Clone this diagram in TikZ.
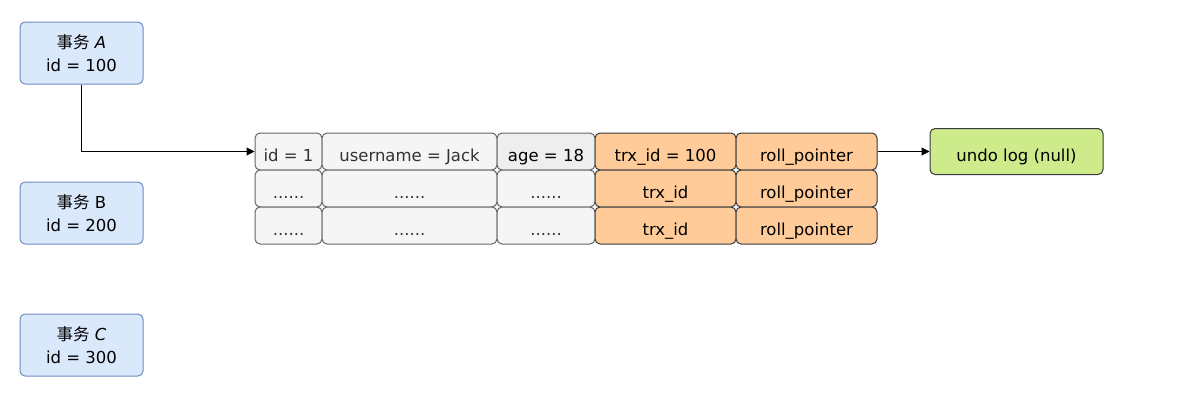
\documentclass[tikz,border=0pt]{standalone}
\usepackage{fontspec}
\setmainfont{DejaVu Sans}
\newfontfamily\cjk{Noto Sans CJK SC}
\usetikzlibrary{arrows.meta}
\definecolor{bluefill}{HTML}{DAE8FC}
\definecolor{bluedraw}{HTML}{6C8EBF}
\definecolor{grayfill}{HTML}{F5F5F5}
\definecolor{grayfilltwo}{HTML}{EEEEEE}
\definecolor{graydraw}{HTML}{666666}
\definecolor{graytext}{HTML}{333333}
\definecolor{orfill}{HTML}{FFCC99}
\definecolor{greenfill}{HTML}{CDEB8B}
\definecolor{darkdraw}{HTML}{36393D}
\tikzset{
  base/.style={rounded corners=5pt, line width=1pt, inner sep=0pt, align=center,
    font=\fontsize{16.5}{23}\selectfont},
  oneline/.style={text height=19pt, text depth=0pt},
  trx/.style={base, fill=bluefill, draw=bluedraw, minimum width=123pt, minimum height=62pt},
  cell/.style={base, oneline, fill=grayfill, draw=graydraw, text=graytext, minimum height=37pt},
  ocell/.style={base, oneline, fill=orfill, draw=darkdraw, minimum height=37pt, minimum width=141pt},
  undo/.style={base, oneline, fill=greenfill, draw=darkdraw, minimum width=173pt, minimum height=46pt},
  conn/.style={line width=1pt, -{Triangle[length=8pt,width=8pt]}}
}
\begin{document}
\begin{tikzpicture}[x=1pt,y=-1pt]
\useasboundingbox (0,0) rectangle (1177,400);
\node[trx] (ta) at (81.5,53) {{\cjk 事务} \textit{A}\\id = 100};
\node[trx] (tb) at (81.5,213) {{\cjk 事务} B\\id = 200};
\node[trx] (tc) at (81.5,345) {{\cjk 事务} \textit{C}\\id = 300};

\node[cell, minimum width=67pt] (id1) at (288.5,151.5) {id = 1};
\node[cell, minimum width=175pt] (un1) at (409.5,151.5) {username = Jack};
\node[cell, fill=grayfilltwo, text=black, minimum width=98pt] (ag1) at (546,151.5) {age = 18};
\node[ocell] (tr1) at (665.5,151.5) {trx\_id = 100};
\node[ocell] (rp1) at (806.5,151.5) {roll\_pointer};

\node[cell, minimum width=67pt] (id2) at (288.5,188.5) {......};
\node[cell, minimum width=175pt] (un2) at (409.5,188.5) {......};
\node[cell, minimum width=98pt] (ag2) at (546,188.5) {......};
\node[ocell] (tr2) at (665.5,188.5) {trx\_id};
\node[ocell] (rp2) at (806.5,188.5) {roll\_pointer};

\node[cell, minimum width=67pt] (id3) at (288.5,225.5) {......};
\node[cell, minimum width=175pt] (un3) at (409.5,225.5) {......};
\node[cell, minimum width=98pt] (ag3) at (546,225.5) {......};
\node[ocell] (tr3) at (665.5,225.5) {trx\_id};
\node[ocell] (rp3) at (806.5,225.5) {roll\_pointer};

\node[undo] (ul) at (1016.5,151.5) {undo log (null)};

\draw[conn] (ta.south) |- (id1.west);
\draw[conn] (rp1.east) -- (ul.west);
\end{tikzpicture}
\end{document}
